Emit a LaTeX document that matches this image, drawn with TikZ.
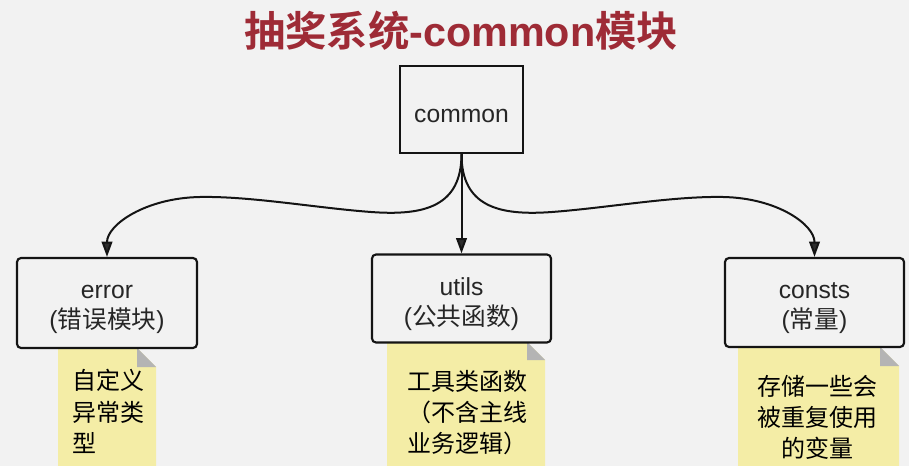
\documentclass[tikz,border=0pt]{standalone}
\usepackage{fontspec}
\setmainfont{Liberation Sans}
\newfontfamily\cjk{Noto Sans CJK SC}[BoldFont={Noto Sans CJK SC Bold}]
\usetikzlibrary{arrows.meta}
\definecolor{bg}{RGB}{242,242,242}
\definecolor{titlered}{RGB}{158,43,54}
\definecolor{notey}{RGB}{244,237,166}
\definecolor{foldg}{RGB}{180,180,180}
\definecolor{tipg}{RGB}{45,45,45}
\definecolor{linec}{RGB}{20,20,20}
\begin{document}
\begin{tikzpicture}[x=0.75pt,y=-0.75pt,
  box/.style={draw=linec,line width=1.6pt,fill=bg,inner sep=0pt},
  rbox/.style={box,rounded corners=3pt},
  boxtext/.style={align=center,inner sep=0pt,text=black!85,font=\fontsize{18.5}{22.5}\selectfont},
  conn/.style={line width=1.5pt,draw=linec,-{Triangle[length=11.5pt,width=8pt,fill=tipg]}},
  notetext/.style={inner sep=0pt,font=\cjk\fontsize{18}{23.5}\selectfont},
  note/.style={fill=notey},
  fold/.style={fill=foldg}]
\useasboundingbox[fill=bg] (0,0) rectangle (909,466);

% title
\node[font=\bfseries\fontsize{31}{36}\selectfont,text=titlered,inner sep=0pt] (title) at (461,31) {{\cjk\bfseries 抽奖系统}-common{\cjk\bfseries 模块}};

% notes
\fill[note] (58,348) -- (137,348) -- (156,367) -- (156,466) -- (58,466) -- cycle;
\fill[fold] (137,348) -- (137,367) -- (156,367) -- cycle;
\fill[note] (387,342) -- (527,342) -- (545,360) -- (545,466) -- (387,466) -- cycle;
\fill[fold] (527,342) -- (527,360) -- (545,360) -- cycle;
\fill[note] (738,347) -- (880,347) -- (899,366) -- (899,466) -- (738,466) -- cycle;
\fill[fold] (880,347) -- (880,366) -- (899,366) -- cycle;

\node[notetext,anchor=west,align=left] (n1) at (72,411.5) {自定义\\异常类\\型};
\node[notetext,anchor=west,align=left] (n2) at (407,412.5) {工具类函数\\（不含主线\\业务逻辑）};
\node[notetext,align=center] (n3) at (817.5,417.5) {存储一些会\\被重复使用\\的变量};

% boxes
\node[box,minimum width={123*0.75pt},minimum height={87*0.75pt}] (common) at (461.5,109.5) {};
\node[rbox,minimum width={180*0.75pt},minimum height={90*0.75pt}] (error) at (107,303) {};
\node[rbox,minimum width={179*0.75pt},minimum height={88*0.75pt}] (utils) at (461.5,298.5) {};
\node[rbox,minimum width={179*0.75pt},minimum height={89*0.75pt}] (consts) at (814.5,302.5) {};

\node[boxtext] (commont) at ([yshift=-4.5pt]common.center) {common};
\node[boxtext] (errort) at ([yshift=-4.5pt]error.center) {error\\({\cjk 错误模块})};
\node[boxtext] (utilst) at ([yshift=-4.5pt]utils.center) {utils\\({\cjk 公共函数})};
\node[boxtext] (constst) at ([yshift=-4.5pt]consts.center) {consts\\({\cjk 常量})};

% connectors
\draw[conn] (common.south) -- (utils.north);
\draw[conn] (common.south) .. controls +(0,52) and (425,216) .. (371,212)
  .. controls (317,208) and (250,196) .. (200,197)
  .. controls (145,198) and (107,225) .. (error.north);
\draw[conn] (common.south) .. controls +(0,52) and (498,216) .. (552,212)
  .. controls (606,208) and (673,196) .. (723,197)
  .. controls (778,198) and (814.5,225) .. (consts.north);
\end{tikzpicture}
\end{document}
